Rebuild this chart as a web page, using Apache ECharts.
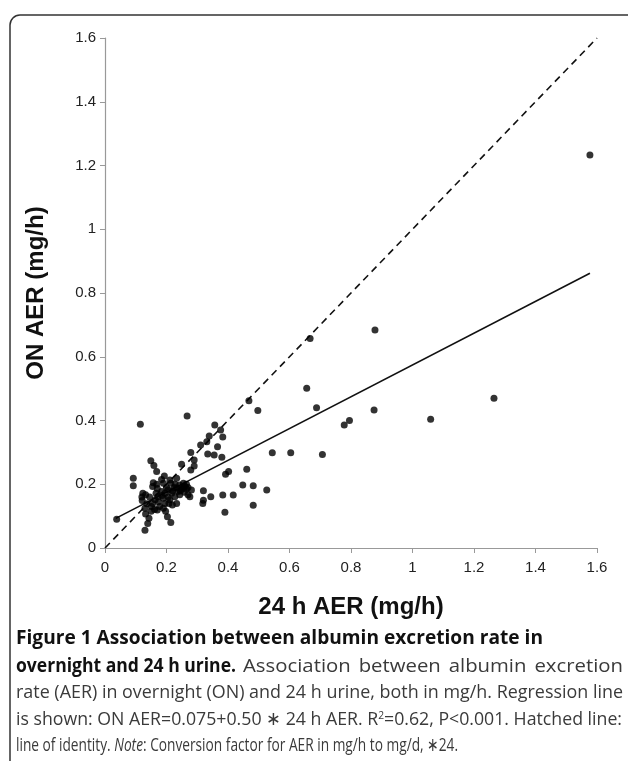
<!DOCTYPE html>
<html>
<head>
	<meta charset="utf-8">
	<title>ON vs 24 h AER</title>
	<script src="https://cdn.jsdelivr.net/npm/echarts@6/dist/echarts.min.js"></script>
	<style>
		html, body { margin: 0; padding: 0; background: #fff; }
	</style>
</head>
<body>
	<div id="chart" style="width: 628px;height:761px;"></div>
	<script type="text/javascript">
		// 24 h AER (x) and overnight AER (y), mg/h
		var aer24 = [0.038,0.115,0.267,0.092,0.092,0.149,0.159,0.168,0.123,0.132,0.121,0.136,0.13,0.132,0.139,0.13,0.143,0.151,0.163,0.157,0.155,0.17,0.166,0.172,0.174,0.17,0.161,0.184,0.193,0.19,0.184,0.195,0.19,0.195,0.19,0.197,0.203,0.214,0.205,0.211,0.214,0.217,0.211,0.219,0.227,0.233,0.233,0.238,0.233,0.243,0.249,0.243,0.255,0.26,0.265,0.249,0.27,0.276,0.281,0.279,0.279,0.29,0.29,0.311,0.331,0.334,0.339,0.357,0.355,0.366,0.376,0.383,0.38,0.32,0.32,0.318,0.344,0.383,0.392,0.402,0.39,0.417,0.448,0.461,0.468,0.497,0.482,0.482,0.526,0.544,0.604,0.656,0.667,0.688,0.707,0.778,0.795,0.875,0.878,1.059,1.265,1.577,
			0.2,0.225,0.245,0.255,0.27,0.258,0.22,0.205,0.178,0.145,0.155,0.185,0.228,0.265,0.208,0.15,0.168,0.12];
		var aerOn = [0.09,0.388,0.414,0.219,0.195,0.274,0.259,0.24,0.172,0.167,0.149,0.139,0.125,0.107,0.077,0.056,0.093,0.13,0.151,0.205,0.193,0.187,0.172,0.161,0.145,0.119,0.121,0.215,0.226,0.203,0.177,0.172,0.156,0.14,0.125,0.115,0.098,0.08,0.183,0.213,0.203,0.172,0.151,0.135,0.161,0.219,0.188,0.177,0.14,0.198,0.185,0.167,0.203,0.193,0.2,0.263,0.167,0.161,0.182,0.245,0.3,0.276,0.257,0.323,0.333,0.295,0.351,0.386,0.292,0.318,0.37,0.348,0.285,0.18,0.15,0.14,0.161,0.166,0.231,0.24,0.112,0.166,0.198,0.247,0.462,0.431,0.195,0.134,0.182,0.299,0.299,0.501,0.657,0.44,0.293,0.386,0.4,0.433,0.684,0.404,0.47,1.233,
			0.19,0.19,0.18,0.19,0.19,0.175,0.18,0.16,0.13,0.16,0.14,0.165,0.2,0.185,0.14,0.115,0.2,0.16];

		// regression line ends and line of identity
		var regX = [0.035, 1.577];
		var regY = [0.093, 0.862];
		var idX = [0, 1.6];
		var idY = [0, 1.6];

		var axisTicks = [0, 0.2, 0.4, 0.6, 0.8, 1, 1.2, 1.4, 1.6];

		var pts = [];
		for (var i = 0; i < aer24.length; i++) pts.push([aer24[i], aerOn[i]]);
		var reg = regX.map(function (x, k) { return [x, regY[k]]; });
		var ident = idX.map(function (x, k) { return [x, idY[k]]; });

		function tickFmt(v) {
			for (var k = 0; k < axisTicks.length; k++) {
				if (Math.abs(axisTicks[k] - v) < 1e-9) return String(axisTicks[k]);
			}
			return '';
		}

		// caption pieces: squeezed/stretched between x0 and x1 like the reference,
		// or (justify) laid out word by word with wider gaps
		var capFont = '"Open Sans", "Noto Sans", sans-serif';
		var capSize = 19;
		var supSize = 11;
		var capPieces = [
			{ y: 639, x0: 16, x1: 543, text: '{b|Figure 1 Association between albumin excretion rate in}' },
			{ y: 667, x0: 16, x1: 236, text: '{b|overnight and 24 h urine.}' },
			{ y: 667, x0: 243, x1: 623, justify: true, scale: 1.07, text: 'Association between albumin excretion' },
			{ y: 693, x0: 16, x1: 623, text: 'rate (AER) in overnight (ON) and 24 h urine, both in mg/h. Regression line' },
			{ y: 720, x0: 16, x1: 622, text: 'is shown: ON AER=0.075+0.50 \u2217 24 h AER. R{sup|2}=0.62, P<0.001. Hatched line:' },
			{ y: 746, x0: 16, x1: 458, text: 'line of identity. {i|Note}: Conversion factor for AER in mg/h to mg/d, \u221724.' }
		];
		var capRich = {
			b: { fontWeight: 'bold', fontFamily: capFont, fontSize: capSize, fill: '#111' },
			i: { fontStyle: 'italic', fontFamily: capFont, fontSize: capSize, fill: '#3a3a3a' },
			sup: { fontFamily: capFont, fontSize: supSize, fill: '#3a3a3a', verticalAlign: 'top', padding: [0, 0, 9, 0] }
		};

		var ctx = document.createElement('canvas').getContext('2d');
		function measure(str) {
			var w = 0;
			var re = /\{(\w+)\|([^}]*)\}|([^{]+)/g, m;
			while ((m = re.exec(str)) !== null) {
				if (m[3]) {
					ctx.font = capSize + 'px ' + capFont;
					w += ctx.measureText(m[3]).width;
				} else {
					var tag = m[1];
					var st = tag === 'b' ? 'bold ' : tag === 'i' ? 'italic ' : '';
					var sz = tag === 'sup' ? supSize : capSize;
					ctx.font = st + sz + 'px ' + capFont;
					w += ctx.measureText(m[2]).width;
				}
			}
			return w;
		}

		function capText(x, y, sx, text) {
			return {
				type: 'text', x: x, y: y, scaleX: sx,
				style: {
					x: 0, y: 0, text: text, rich: capRich,
					fontFamily: capFont, fontSize: capSize,
					fill: '#3a3a3a', verticalAlign: 'middle'
				},
				silent: true
			};
		}

		var graphics = [{
			type: 'rect',
			shape: { x: 10, y: 15, width: 640, height: 770, r: 10 },
			style: { fill: 'none', stroke: '#333', lineWidth: 1.5 },
			silent: true, z: 0
		}];
		capPieces.forEach(function (p) {
			if (p.justify) {
				var words = p.text.split(' ');
				var ws = words.map(function (w) { return measure(w) * p.scale; });
				var total = ws.reduce(function (a, b) { return a + b; }, 0);
				var gap = (p.x1 - p.x0 - total) / (words.length - 1);
				var cx = p.x0;
				words.forEach(function (w, k) {
					graphics.push(capText(cx, p.y, p.scale, w));
					cx += ws[k] + gap;
				});
			} else {
				graphics.push(capText(p.x0, p.y, (p.x1 - p.x0) / measure(p.text), p.text));
			}
		});

		var axisFont = '"Liberation Sans", Arial, sans-serif';
		var myChart = echarts.init(document.getElementById('chart'));
		var option = {
			animation: false,
			backgroundColor: '#fff',
			grid: { left: 105, right: 31, top: 38, bottom: 213, containLabel: false },
			xAxis: {
				type: 'value', min: 0, max: 1.6, interval: 0.2,
				name: '24 h AER (mg/h)', nameLocation: 'middle', nameGap: 47,
				nameTextStyle: { fontSize: 24, fontWeight: 'bold', color: '#111', fontFamily: axisFont },
				axisLine: { lineStyle: { color: '#999', width: 1.2 } },
				axisTick: { show: true, length: 5, lineStyle: { color: '#999' } },
				axisLabel: { formatter: tickFmt, fontSize: 15, color: '#222', margin: 12, fontFamily: axisFont },
				splitLine: { show: false }
			},
			yAxis: {
				type: 'value', min: 0, max: 1.6, interval: 0.2,
				name: 'ON AER (mg/h)', nameLocation: 'middle', nameGap: 57,
				nameTextStyle: { fontSize: 24, fontWeight: 'bold', color: '#111', fontFamily: axisFont },
				axisLine: { show: true, lineStyle: { color: '#999', width: 1.2 } },
				axisTick: { show: true, length: 5, lineStyle: { color: '#999' } },
				axisLabel: { formatter: tickFmt, fontSize: 15, color: '#222', margin: 9, fontFamily: axisFont },
				splitLine: { show: false }
			},
			series: [
				{
					type: 'line', data: ident, symbol: 'none',
					lineStyle: { color: '#111', width: 1.6, type: [7, 5] },
					z: 2
				},
				{
					type: 'line', data: reg, symbol: 'none',
					lineStyle: { color: '#111', width: 1.6 },
					z: 2
				},
				{
					type: 'scatter', data: pts, symbol: 'circle', symbolSize: 7,
					itemStyle: { color: '#000' },
					z: 3
				}
			],
			graphic: graphics
		};
		myChart.setOption(option);
	</script>
</body>
</html>
